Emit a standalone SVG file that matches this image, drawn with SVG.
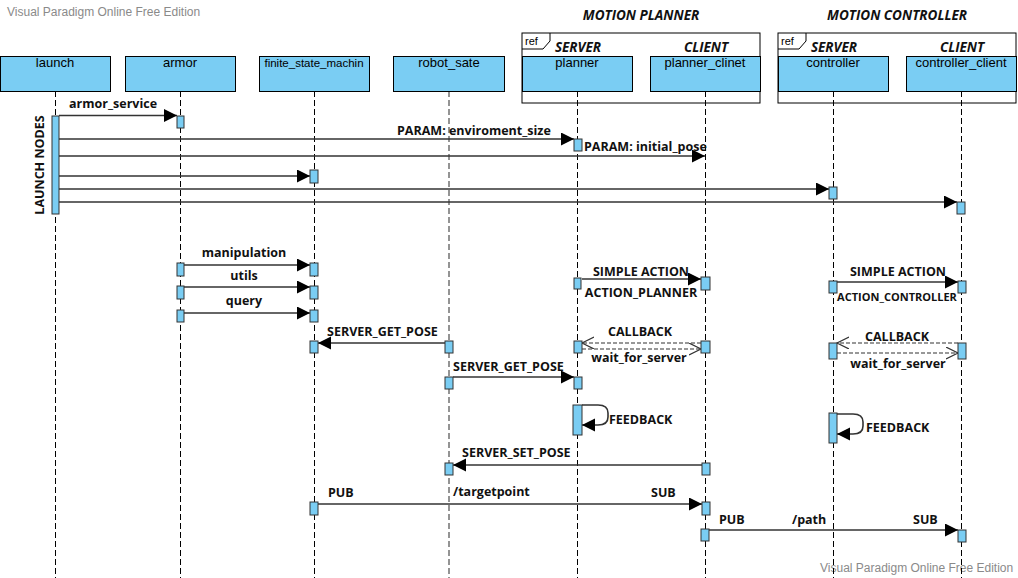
<svg xmlns="http://www.w3.org/2000/svg" width="1018" height="578" viewBox="0 0 1018 578">
<style>
.wm{font-family:"Liberation Sans",Arial,sans-serif;font-size:12px;fill:#8a8a8a}
.box{fill:#7acdf3;stroke:#000;stroke-width:1}
.hd{font-family:"Liberation Sans",Arial,sans-serif;font-size:13px;fill:#000;text-anchor:middle}
.ll{stroke:#000;stroke-width:1;stroke-dasharray:6,3;fill:none}
.llg{stroke:#7a7a7a;stroke-width:1.6;stroke-dasharray:6,3;fill:none}
.act{fill:#7acdf3;stroke:#333;stroke-width:1}
.msg{stroke:#333;stroke-width:1.6;fill:none;marker-end:url(#fa)}
.dmsg{stroke:#333;stroke-width:1.2;stroke-dasharray:4,2;fill:none;marker-end:url(#oa)}
.lb{font-family:"Open Sans","Noto Sans",sans-serif;font-size:12.5px;font-weight:bold;fill:#111}
.sm{font-size:11px}
.ttl{font-family:"Open Sans","Noto Sans",sans-serif;font-size:13.5px;font-weight:bold;font-style:italic;fill:#111}
.frame{fill:none;stroke:#000;stroke-width:1}
.ref{font-family:"Liberation Sans",Arial,sans-serif;font-size:11px;fill:#000}
</style>
<defs>
<marker id="fa" markerUnits="userSpaceOnUse" markerWidth="14" markerHeight="14" refX="13" refY="6.5" orient="auto">
<path d="M0,0 L13,6.5 L0,13 z" fill="#000"/>
</marker>
<marker id="oa" markerUnits="userSpaceOnUse" markerWidth="14" markerHeight="14" refX="12" refY="6" orient="auto">
<path d="M0,0 L12,6 L0,12" fill="none" stroke="#333" stroke-width="1.2"/>
</marker>
</defs>
<rect width="1018" height="578" fill="#fff"/>
<text class="wm" x="7" y="16">Visual Paradigm Online Free Edition</text>
<text class="wm" x="820" y="572">Visual Paradigm Online Free Edition</text>

<g id="frame-motion-planner">
<text class="ttl" x="641" y="20" text-anchor="middle">MOTION PLANNER</text>
<rect class="frame" x="522" y="33" width="238" height="70"/>
<path class="frame" d="M522,49 H543 L550,41 V33"/>
<text class="ref" x="525" y="45">ref</text>
<text class="ttl" x="578" y="52" text-anchor="middle">SERVER</text>
<text class="ttl" x="706" y="52" text-anchor="middle">CLIENT</text>
</g>
<g id="frame-motion-controller">
<text class="ttl" x="897" y="20" text-anchor="middle">MOTION CONTROLLER</text>
<rect class="frame" x="778" y="33" width="238" height="70"/>
<path class="frame" d="M778,49 H799 L806,41 V33"/>
<text class="ref" x="781" y="45">ref</text>
<text class="ttl" x="834" y="52" text-anchor="middle">SERVER</text>
<text class="ttl" x="962" y="52" text-anchor="middle">CLIENT</text>
</g>

<g id="lifelines">
<line class="ll" x1="55.5" y1="91" x2="55.5" y2="578"/>
<line class="ll" x1="180.5" y1="91" x2="180.5" y2="578"/>
<line class="ll" x1="314.5" y1="91" x2="314.5" y2="578"/>
<line class="llg" x1="449" y1="91" x2="449" y2="578"/>
<line class="ll" x1="577.5" y1="91" x2="577.5" y2="578"/>
<line class="ll" x1="705.5" y1="91" x2="705.5" y2="578"/>
<line class="ll" x1="833.5" y1="91" x2="833.5" y2="578"/>
<line class="ll" x1="961.5" y1="91" x2="961.5" y2="578"/>
</g>

<g id="launch"><rect class="box" x="0.5" y="56.5" width="110" height="35"/><text class="hd" x="55" y="67">launch</text></g>
<g id="armor"><rect class="box" x="125.5" y="56.5" width="110" height="35"/><text class="hd" x="180" y="67">armor</text></g>
<g id="finite_state_machin"><rect class="box" x="259.5" y="56.5" width="110" height="35"/><text class="hd" x="314" y="67" style="font-size:11.5px">finite_state_machin</text></g>
<g id="robot_sate"><rect class="box" x="393.5" y="56.5" width="111" height="35"/><text class="hd" x="449" y="67">robot_sate</text></g>
<g id="planner"><rect class="box" x="522.5" y="56.5" width="110" height="35"/><text class="hd" x="577" y="67">planner</text></g>
<g id="planner_clinet"><rect class="box" x="650.5" y="56.5" width="110" height="35"/><text class="hd" x="705" y="67">planner_clinet</text></g>
<g id="controller"><rect class="box" x="778.5" y="56.5" width="110" height="35"/><text class="hd" x="833" y="67">controller</text></g>
<g id="controller_client"><rect class="box" x="906.5" y="56.5" width="110" height="35"/><text class="hd" x="961" y="67">controller_client</text></g>

<g id="connectors">
<path class="msg" d="M59,115.5 H177"/>
<text class="lb" x="69" y="108">armor_service</text>
<path class="msg" d="M59,139 H574"/>
<text class="lb" x="397" y="135">PARAM: enviroment_size</text>
<path class="msg" d="M59,156 H705"/>
<text class="lb" x="584" y="151">PARAM: initial_pose</text>
<path class="msg" d="M59,176 H310"/>
<path class="msg" d="M59,189 H829"/>
<path class="msg" d="M59,202 H957"/>

<path class="msg" d="M184,265 H310"/>
<text class="lb" x="244" y="257" text-anchor="middle">manipulation</text>
<path class="msg" d="M184,287 H310"/>
<text class="lb" x="244" y="280" text-anchor="middle">utils</text>
<path class="msg" d="M184,313 H310"/>
<text class="lb" x="244" y="305" text-anchor="middle">query</text>

<path class="msg" d="M445,343 H318"/>
<text class="lb" x="327" y="336">SERVER_GET_POSE</text>
<path class="msg" d="M453,377 H574"/>
<text class="lb" x="453" y="371">SERVER_GET_POSE</text>

<path class="msg" d="M582,279 H701"/>
<text class="lb" x="641" y="276" text-anchor="middle">SIMPLE ACTION</text>
<text class="lb" x="641" y="297" text-anchor="middle">ACTION_PLANNER</text>
<path class="dmsg" d="M701,343 H582"/>
<text class="lb" x="640" y="336" text-anchor="middle">CALLBACK</text>
<path class="dmsg" d="M582,349 H701"/>
<text class="lb" x="639" y="362" text-anchor="middle">wait_for_server</text>

<path class="msg" d="M837,282 H958"/>
<text class="lb" x="898" y="276" text-anchor="middle">SIMPLE ACTION</text>
<text class="lb sm" x="897" y="301" text-anchor="middle">ACTION_CONTROLLER</text>
<path class="dmsg" d="M958,343 H837"/>
<text class="lb" x="897" y="341" text-anchor="middle">CALLBACK</text>
<path class="dmsg" d="M837,353 H958"/>
<text class="lb" x="898" y="368" text-anchor="middle">wait_for_server</text>

<path class="msg" d="M582,405 H598 Q608,405 608,413 V417 Q608,425 598,425 H582"/>
<text class="lb" x="609" y="424">FEEDBACK</text>
<path class="msg" d="M837,414 H853 Q863,414 863,422 V426 Q863,434 853,434 H837"/>
<text class="lb" x="866" y="432">FEEDBACK</text>

<path class="msg" d="M702,465 H453"/>
<text class="lb" x="462" y="457">SERVER_SET_POSE</text>

<path class="msg" d="M318,504 H702"/>
<text class="lb" x="328" y="497">PUB</text>
<text class="lb" x="453" y="496">/targetpoint</text>
<text class="lb" x="651" y="497">SUB</text>

<path class="msg" d="M709,530 H958"/>
<text class="lb" x="719" y="524">PUB</text>
<text class="lb" x="792" y="524">/path</text>
<text class="lb" x="913" y="524">SUB</text>
</g>

<g id="activations">
<rect class="act" x="52" y="116" width="7" height="98"/>
<text class="lb" transform="translate(44,165) rotate(-90)" text-anchor="middle" style="font-size:12.5px">LAUNCH NODES</text>
<rect class="act" x="177" y="116" width="7" height="12"/>
<rect class="act" x="574" y="139" width="8" height="12"/>
<rect class="act" x="310" y="170" width="8" height="13"/>
<rect class="act" x="829" y="187" width="8" height="12"/>
<rect class="act" x="957" y="202" width="8" height="12"/>

<rect class="act" x="177" y="263" width="7" height="13"/>
<rect class="act" x="310" y="263" width="8" height="13"/>
<rect class="act" x="177" y="286" width="7" height="13"/>
<rect class="act" x="310" y="286" width="8" height="13"/>
<rect class="act" x="177" y="310" width="7" height="12"/>
<rect class="act" x="310" y="310" width="8" height="12"/>

<rect class="act" x="310" y="341" width="8" height="12"/>
<rect class="act" x="445" y="341" width="8" height="12"/>
<rect class="act" x="445" y="377" width="8" height="12"/>
<rect class="act" x="574" y="377" width="8" height="12"/>

<rect class="act" x="574" y="278" width="7" height="11"/>
<rect class="act" x="701" y="277" width="9" height="13"/>
<rect class="act" x="574" y="341" width="8" height="12"/>
<rect class="act" x="701" y="341" width="9" height="12"/>

<rect class="act" x="829" y="281" width="8" height="12"/>
<rect class="act" x="958" y="281" width="8" height="12"/>
<rect class="act" x="829" y="343" width="8" height="16"/>
<rect class="act" x="958" y="343" width="8" height="16"/>

<rect class="act" x="573" y="405" width="9" height="30"/>
<rect class="act" x="829" y="413" width="8" height="30"/>

<rect class="act" x="702" y="463" width="8" height="12"/>
<rect class="act" x="445" y="463" width="8" height="12"/>
<rect class="act" x="310" y="502" width="8" height="13"/>
<rect class="act" x="702" y="502" width="8" height="13"/>
<rect class="act" x="701" y="529" width="8" height="12"/>
<rect class="act" x="958" y="530" width="8" height="12"/>
</g>
</svg>
